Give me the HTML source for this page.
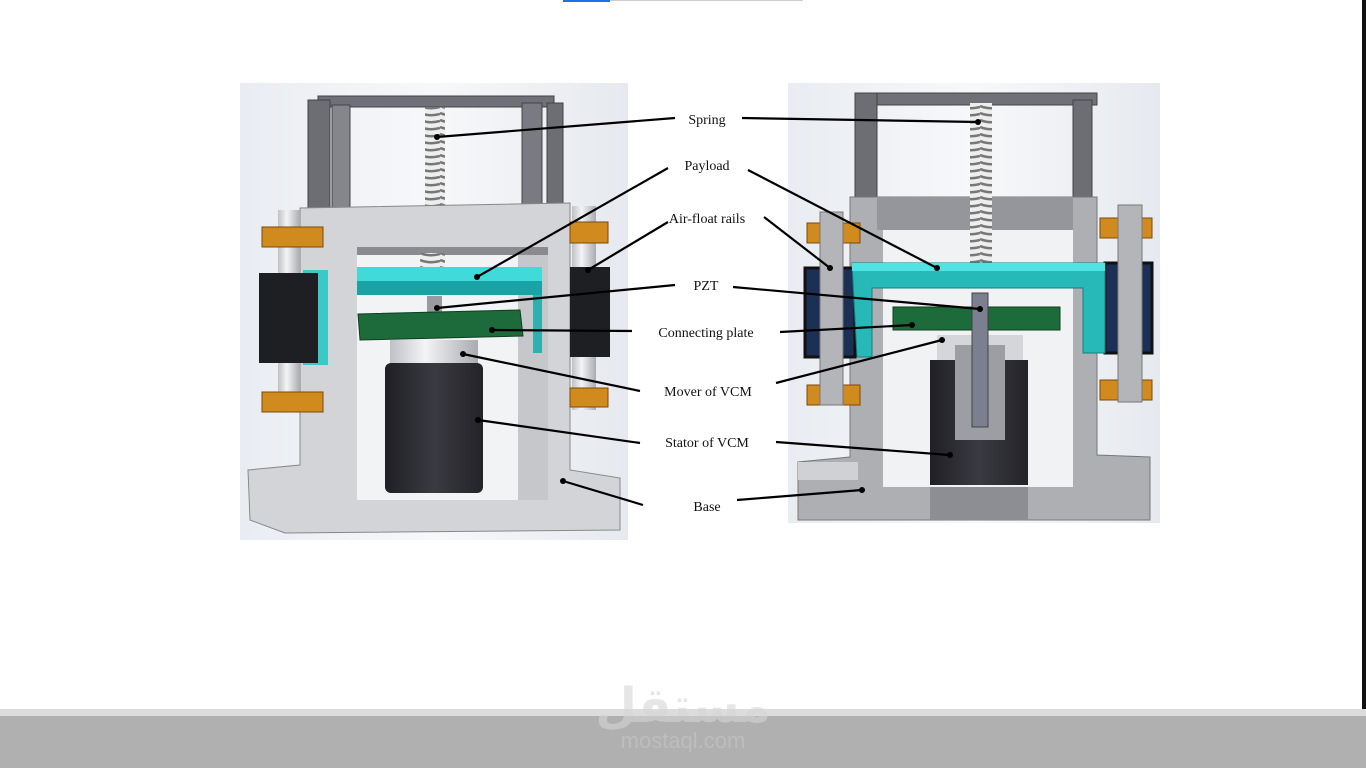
<!DOCTYPE html>
<html><head><meta charset="utf-8"><style>
html,body{margin:0;padding:0;background:#fff;width:1366px;height:768px;overflow:hidden}
svg{display:block}
text{font-family:"Liberation Serif",serif;font-size:14px;fill:#111}
</style></head><body>
<svg width="1366" height="768" viewBox="0 0 1366 768" xmlns="http://www.w3.org/2000/svg">
<defs>
<linearGradient id="bg" x1="0" y1="0" x2="1" y2="0"><stop offset="0" stop-color="#e9ecf2"/><stop offset="0.5" stop-color="#f7f8fa"/><stop offset="1" stop-color="#e6e9ef"/></linearGradient>
<linearGradient id="cyl" x1="0" y1="0" x2="1" y2="0"><stop offset="0" stop-color="#1f1f24"/><stop offset="0.5" stop-color="#3a3a42"/><stop offset="1" stop-color="#232328"/></linearGradient>
<linearGradient id="sil" x1="0" y1="0" x2="1" y2="0"><stop offset="0" stop-color="#bfc1c6"/><stop offset="0.4" stop-color="#f4f4f6"/><stop offset="1" stop-color="#a9abb0"/></linearGradient>
<pattern id="spr" width="20" height="7" patternUnits="userSpaceOnUse"><rect width="20" height="7" fill="#eee"/><path d="M0 1 Q10 5 20 2" stroke="#777" stroke-width="2.5" fill="none"/></pattern>
</defs>
<rect x="563" y="0" width="47" height="2" fill="#1a73e8"/>
<rect x="610" y="0" width="193" height="1" fill="#ccc"/>
<rect x="1362" y="0" width="4" height="712" fill="#111"/>

<!-- LEFT IMAGE -->
<rect x="240" y="83" width="388" height="457" fill="url(#bg)"/>
<rect x="318" y="96" width="236" height="11" fill="#707078" stroke="#444" stroke-width="1"/>
<rect x="308" y="100" width="22" height="117" fill="#6d6d74" stroke="#444"/>
<rect x="332" y="105" width="18" height="112" fill="#85858c" stroke="#444"/>
<rect x="522" y="103" width="20" height="112" fill="#7a7a82" stroke="#444"/>
<rect x="547" y="103" width="16" height="112" fill="#6d6d74" stroke="#444"/>
<rect x="425" y="107" width="20" height="110" fill="url(#spr)"/>
<path d="M300 208 L570 203 L570 470 L620 478 L620 530 L285 533 L250 520 L248 470 L300 465 Z" fill="#d3d4d8" stroke="#888"/>
<rect x="357" y="247" width="191" height="253" fill="#f2f3f5"/>
<rect x="357" y="247" width="191" height="8" fill="#8a8a90"/>
<rect x="518" y="255" width="30" height="245" fill="#c6c7cb"/>
<rect x="420" y="253" width="25" height="20" fill="url(#spr)"/>
<rect x="278" y="210" width="22" height="200" fill="url(#sil)"/>
<rect x="262" y="227" width="61" height="20" fill="#d08a1e" stroke="#7a4a08"/>
<rect x="262" y="392" width="61" height="20" fill="#d08a1e" stroke="#7a4a08"/>
<rect x="303" y="270" width="25" height="95" fill="#3dc8c8"/>
<rect x="259" y="273" width="59" height="90" fill="#1e1f22"/>
<rect x="572" y="206" width="24" height="204" fill="url(#sil)"/>
<rect x="570" y="222" width="38" height="21" fill="#d08a1e" stroke="#7a4a08"/>
<rect x="570" y="388" width="38" height="19" fill="#d08a1e" stroke="#7a4a08"/>
<rect x="570" y="267" width="40" height="90" fill="#1e1f22"/>
<rect x="533" y="293" width="9" height="60" fill="#2fb0b0"/>
<rect x="357" y="267" width="185" height="14" fill="#40dada"/>
<rect x="357" y="281" width="185" height="14" fill="#18a4a4"/>
<rect x="427" y="296" width="15" height="22" fill="#9a9aa0"/>
<polygon points="358,314 520,310 523,336 360,340" fill="#1d6b3a" stroke="#0e3f20"/>
<rect x="390" y="340" width="88" height="30" fill="url(#sil)"/>
<rect x="385" y="363" width="98" height="130" rx="6" fill="url(#cyl)"/>

<!-- RIGHT IMAGE -->
<rect x="788" y="83" width="372" height="440" fill="url(#bg)"/>
<rect x="857" y="93" width="240" height="12" fill="#707078" stroke="#444"/>
<rect x="855" y="93" width="22" height="107" fill="#6d6d74" stroke="#444"/>
<rect x="1073" y="100" width="19" height="97" fill="#6d6d74" stroke="#444"/>
<path d="M850 197 L1097 197 L1097 455 L1150 457 L1150 520 L798 520 L798 462 L850 457 Z" fill="#aeafb3" stroke="#777"/>
<rect x="877" y="197" width="196" height="33" fill="#95969b"/>
<rect x="883" y="230" width="190" height="257" fill="#f1f2f4"/>
<rect x="970" y="103" width="22" height="162" fill="url(#spr)"/>
<rect x="798" y="462" width="60" height="18" fill="#d0d1d4"/>
<rect x="930" y="487" width="98" height="33" fill="#8d8e93"/>
<rect x="807" y="223" width="53" height="20" fill="#d08a1e" stroke="#7a4a08"/>
<rect x="807" y="385" width="53" height="20" fill="#d08a1e" stroke="#7a4a08"/>
<rect x="805" y="268" width="50" height="89" fill="#1c2f55" stroke="#111" stroke-width="3"/>
<rect x="820" y="212" width="23" height="193" fill="#b4b5b9" stroke="#777"/>
<rect x="1100" y="218" width="52" height="20" fill="#d08a1e" stroke="#7a4a08"/>
<rect x="1100" y="380" width="52" height="20" fill="#d08a1e" stroke="#7a4a08"/>
<rect x="1105" y="263" width="47" height="90" fill="#1c2f55" stroke="#111" stroke-width="3"/>
<rect x="1118" y="205" width="24" height="197" fill="#b4b5b9" stroke="#777"/>
<path d="M852 263 L1105 263 L1105 353 L1083 353 L1083 288 L872 288 L872 357 L857 357 Z" fill="#27b8b8" stroke="#128080"/>
<rect x="852" y="263" width="253" height="8" fill="#4fe3e3"/>
<rect x="937" y="335" width="86" height="28" fill="#d5d6d9"/>
<rect x="930" y="360" width="98" height="125" fill="url(#cyl)"/>
<rect x="955" y="345" width="50" height="95" fill="#9d9ea3"/>
<rect x="893" y="307" width="167" height="23" fill="#1d6b3a" stroke="#0e3f20"/>
<rect x="972" y="293" width="16" height="134" fill="#7c7f90" stroke="#444"/>

<g stroke="#000" stroke-width="2.2" fill="none">
<line x1="675" y1="118" x2="437" y2="137"/>
<line x1="668" y1="168" x2="477" y2="277"/>
<line x1="668" y1="222" x2="588" y2="270"/>
<line x1="675" y1="285" x2="437" y2="308"/>
<line x1="632" y1="331" x2="492" y2="330"/>
<line x1="640" y1="391" x2="463" y2="354"/>
<line x1="640" y1="443" x2="478" y2="420"/>
<line x1="643" y1="505" x2="563" y2="481"/>
<line x1="742" y1="118" x2="978" y2="122"/>
<line x1="748" y1="170" x2="937" y2="268"/>
<line x1="764" y1="217" x2="830" y2="268"/>
<line x1="733" y1="287" x2="980" y2="309"/>
<line x1="780" y1="332" x2="912" y2="325"/>
<line x1="776" y1="383" x2="942" y2="340"/>
<line x1="776" y1="442" x2="950" y2="455"/>
<line x1="737" y1="500" x2="862" y2="490"/>
</g>
<g fill="#000">
<circle cx="437" cy="137" r="3"/><circle cx="477" cy="277" r="3"/><circle cx="588" cy="270" r="3"/><circle cx="437" cy="308" r="3"/><circle cx="492" cy="330" r="3"/><circle cx="463" cy="354" r="3"/><circle cx="478" cy="420" r="3"/><circle cx="563" cy="481" r="3"/>
<circle cx="978" cy="122" r="3"/><circle cx="937" cy="268" r="3"/><circle cx="830" cy="268" r="3"/><circle cx="980" cy="309" r="3"/><circle cx="912" cy="325" r="3"/><circle cx="942" cy="340" r="3"/><circle cx="950" cy="455" r="3"/><circle cx="862" cy="490" r="3"/>
</g>
<g text-anchor="middle">
<text x="707" y="124">Spring</text>
<text x="707" y="170">Payload</text>
<text x="707" y="223">Air-float rails</text>
<text x="706" y="290">PZT</text>
<text x="706" y="337">Connecting plate</text>
<text x="708" y="396">Mover of VCM</text>
<text x="707" y="447">Stator of VCM</text>
<text x="707" y="511">Base</text>
</g>

<rect x="0" y="709" width="1366" height="7" fill="#dcdcdc"/>
<rect x="0" y="716" width="1366" height="52" fill="#b0b0b0"/>
<text x="683" y="748" text-anchor="middle" style="font-family:'Liberation Sans',sans-serif;font-size:22px;fill:#bdbdbd">mostaql.com</text>
<text x="683" y="722" text-anchor="middle" style="font-family:'DejaVu Sans',sans-serif;font-size:48px;font-weight:bold;fill:#d6d6d6;opacity:0.6">مستقل</text>
</svg>
</body></html>
